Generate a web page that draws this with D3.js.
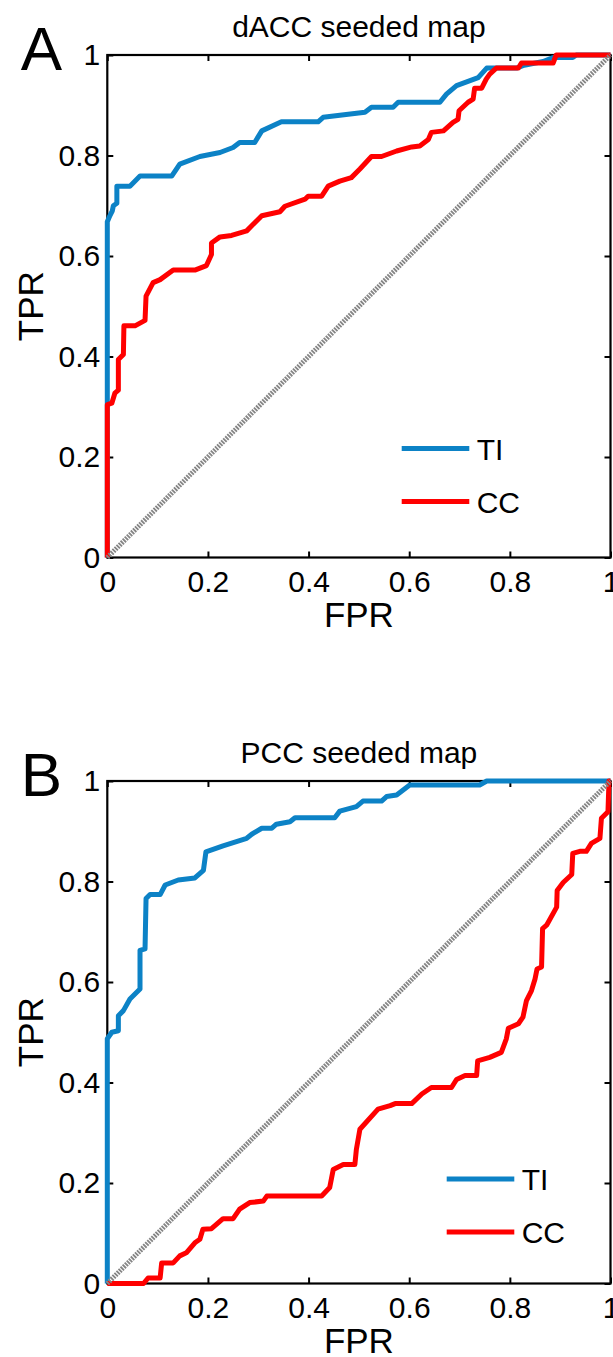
<!DOCTYPE html>
<html>
<head>
<meta charset="utf-8">
<script src="https://cdn.jsdelivr.net/npm/d3@7"></script>
<style>
  html, body { margin: 0; padding: 0; background: #fff; }
  svg { display: block; }
  text { font-family: "Liberation Sans", Arial, Helvetica, sans-serif; fill: #000; }
</style>
</head>
<body>
<svg id="chart"></svg>
<script>
// tick values and labels shared by both axes
const ticks = [0, 0.2, 0.4, 0.6, 0.8, 1];
const tickLabels = ["0", "0.2", "0.4", "0.6", "0.8", "1"];
const seriesNames = ["TI", "CC"];
const panelLetters = ["A", "B"];
const panelTitles = ["dACC seeded map", "PCC seeded map"];

// ROC points [FPR, TPR]
const daccTI = [[0,0],[0,0.668],[0.005,0.68],[0.01,0.69],[0.012,0.70],[0.019,0.705],[0.019,0.739],[0.045,0.739],
  [0.065,0.759],[0.128,0.759],[0.144,0.783],[0.184,0.798],[0.224,0.806],[0.25,0.816],[0.263,0.826],[0.293,0.826],
  [0.307,0.849],[0.346,0.867],[0.419,0.867],[0.429,0.876],[0.512,0.886],[0.525,0.896],[0.568,0.896],[0.578,0.906],
  [0.661,0.906],[0.674,0.922],[0.694,0.939],[0.737,0.955],[0.754,0.974],[0.813,0.974],[0.826,0.979],[0.866,0.987],
  [0.886,0.995],[0.925,0.995],[0.932,1],[1,1]];
const daccCC = [[0,0],[0,0.304],[0.009,0.307],[0.015,0.327],[0.022,0.333],[0.022,0.394],[0.032,0.404],[0.033,0.461],
  [0.055,0.461],[0.075,0.472],[0.077,0.52],[0.091,0.547],[0.105,0.553],[0.131,0.572],[0.174,0.572],[0.197,0.581],
  [0.207,0.603],[0.207,0.626],[0.224,0.638],[0.247,0.641],[0.277,0.65],[0.287,0.66],[0.307,0.68],[0.343,0.688],
  [0.353,0.699],[0.393,0.713],[0.399,0.719],[0.426,0.719],[0.439,0.739],[0.462,0.749],[0.485,0.756],[0.502,0.773],
  [0.525,0.798],[0.545,0.798],[0.575,0.809],[0.605,0.817],[0.621,0.819],[0.638,0.832],[0.644,0.846],[0.668,0.849],
  [0.687,0.866],[0.697,0.872],[0.699,0.889],[0.717,0.906],[0.727,0.912],[0.73,0.934],[0.744,0.934],[0.753,0.952],
  [0.76,0.962],[0.773,0.974],[0.817,0.974],[0.823,0.984],[0.886,0.984],[0.892,1],[1,1]];
const pccTI = [[0,0],[0,0.487],[0.009,0.5],[0.022,0.503],[0.022,0.533],[0.032,0.543],[0.045,0.566],[0.065,0.586],
  [0.065,0.663],[0.075,0.666],[0.077,0.766],[0.085,0.774],[0.105,0.774],[0.115,0.793],[0.141,0.803],[0.174,0.807],
  [0.191,0.822],[0.196,0.859],[0.23,0.871],[0.277,0.886],[0.287,0.894],[0.307,0.906],[0.327,0.906],[0.336,0.914],
  [0.363,0.919],[0.373,0.927],[0.452,0.927],[0.462,0.94],[0.495,0.949],[0.508,0.96],[0.545,0.96],[0.555,0.969],
  [0.575,0.972],[0.601,0.992],[0.74,0.992],[0.754,1],[1,1]];
const pccCC = [[0,0],[0.072,0],[0.081,0.011],[0.105,0.011],[0.108,0.041],[0.131,0.041],[0.144,0.055],[0.157,0.061],
  [0.174,0.081],[0.184,0.088],[0.19,0.108],[0.207,0.109],[0.23,0.129],[0.25,0.129],[0.263,0.148],[0.283,0.161],
  [0.31,0.164],[0.317,0.174],[0.426,0.174],[0.442,0.191],[0.449,0.227],[0.469,0.237],[0.492,0.237],[0.495,0.267],
  [0.502,0.307],[0.538,0.347],[0.562,0.354],[0.572,0.358],[0.605,0.358],[0.625,0.377],[0.644,0.39],[0.684,0.39],
  [0.694,0.406],[0.711,0.414],[0.734,0.414],[0.736,0.443],[0.76,0.45],[0.783,0.46],[0.793,0.487],[0.797,0.508],
  [0.817,0.517],[0.826,0.53],[0.833,0.563],[0.843,0.583],[0.85,0.606],[0.854,0.626],[0.863,0.63],[0.865,0.706],
  [0.873,0.713],[0.893,0.749],[0.894,0.782],[0.906,0.798],[0.923,0.814],[0.925,0.856],[0.939,0.86],[0.952,0.86],
  [0.962,0.876],[0.979,0.886],[0.982,0.926],[0.995,0.939],[0.997,1],[1,1]];

const [w, h] = [613, 1357];
const [left, pw, ph] = [107.3, 503.2, 502.5];
const colors = {TI: "#0c82c6", CC: "#ff0000"};

const panels = [
  {letter: panelLetters[0], title: panelTitles[0], top: 55, data: [daccTI, daccCC], legend: [401.7, 393.5]},
  {letter: panelLetters[1], title: panelTitles[1], top: 781, data: [pccTI, pccCC], legend: [446.7, 398]}
];

const svg = d3.select("#chart").attr("width", w).attr("height", h);

function styleAxis(g, labels){
  g.select(".domain").remove();
  g.attr("font-family", null).attr("font-size", null);
  g.selectAll(".tick line").attr("stroke", "#000").attr("stroke-width", 2);
  g.selectAll(".tick text").style("font-size", "30px");
  if(!labels) g.selectAll(".tick text").remove();
}

panels.forEach((p) => {
  const g = svg.append("g").attr("transform", `translate(${left},${p.top})`);
  const x = d3.scaleLinear().domain([0, 1]).range([0, pw]);
  const y = d3.scaleLinear().domain([0, 1]).range([ph, 0]);

  //axes, ticks pointing inward on all four sides
  g.append("g").attr("transform", `translate(0,${ph})`)
    .call(d3.axisBottom(x).tickValues(ticks).tickFormat((d, i) => tickLabels[i]).tickSizeInner(-6).tickSizeOuter(0).tickPadding(13))
    .call(styleAxis, true);
  g.append("g")
    .call(d3.axisLeft(y).tickValues(ticks).tickFormat((d, i) => tickLabels[i]).tickSizeInner(-6).tickSizeOuter(0).tickPadding(7))
    .call(styleAxis, true);
  g.append("g")
    .call(d3.axisTop(x).tickValues(ticks).tickSizeInner(-6).tickSizeOuter(0))
    .call(styleAxis, false);
  g.append("g").attr("transform", `translate(${pw},0)`)
    .call(d3.axisRight(y).tickValues(ticks).tickSizeInner(-6).tickSizeOuter(0))
    .call(styleAxis, false);

  g.append("rect").attr("width", pw).attr("height", ph)
    .attr("fill", "none").attr("stroke", "#000").attr("stroke-width", 2.2);

  //ROC curves
  const line = d3.line().x(d => x(d[0])).y(d => y(d[1]));
  p.data.forEach((series, i) => {
    g.append("path").datum(series).attr("d", line)
      .attr("fill", "none").attr("stroke", colors[seriesNames[i]])
      .attr("stroke-width", 5).attr("stroke-linejoin", "round");
  });

  //chance diagonal
  g.append("path").datum([[0, 0], [1, 1]]).attr("d", line)
    .attr("fill", "none").attr("stroke", "#858585").attr("stroke-width", 5)
    .attr("stroke-dasharray", "1.8,1.1");

  //legend
  const [lx, ly] = p.legend;
  seriesNames.forEach((name, i) => {
    const yy = ly + i * 53;
    g.append("line").attr("x1", lx - left).attr("x2", lx - left + 67.6).attr("y1", yy).attr("y2", yy)
      .attr("stroke", colors[name]).attr("stroke-width", 5);
    g.append("text").attr("x", lx - left + 75).attr("y", yy + 11)
      .style("font-size", "30px").text(name);
  });

  //labels
  g.append("text").attr("x", pw / 2).attr("y", -18).attr("text-anchor", "middle")
    .style("font-size", "30px").text(p.title);
  g.append("text").attr("x", -86.6).attr("y", 15)
    .style("font-size", "62px").text(p.letter);
  g.append("text").attr("x", pw / 2).attr("y", ph + 69).attr("text-anchor", "middle")
    .style("font-size", "35px").text("FPR");
  g.append("text").attr("transform", `translate(-64.3,${ph / 2}) rotate(-90)`).attr("text-anchor", "middle")
    .style("font-size", "35px").text("TPR");
});
</script>
</body>
</html>
